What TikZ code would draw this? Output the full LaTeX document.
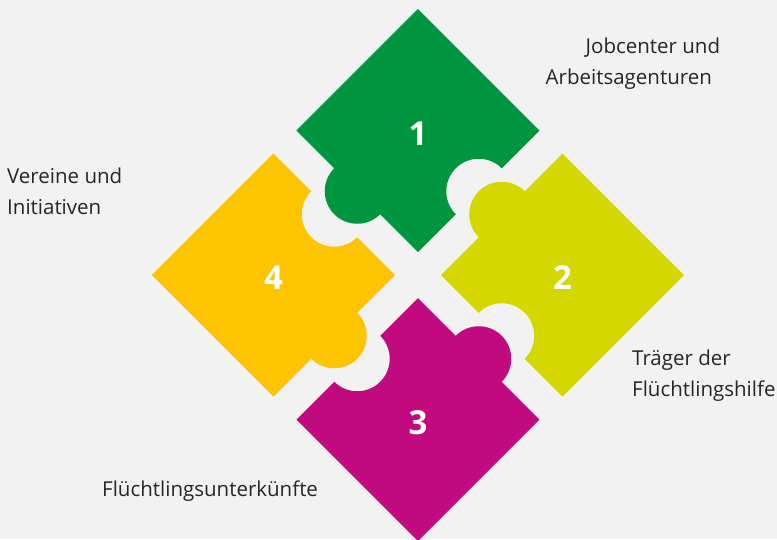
\documentclass[tikz,border=0pt]{standalone}
\usepackage{fontspec}
\setmainfont{Open Sans}
\usetikzlibrary{positioning}
\definecolor{bgGrey}{RGB}{242,242,242}
\definecolor{pieceGreen}{RGB}{0,150,64}
\definecolor{pieceLime}{RGB}{212,216,0}
\definecolor{pieceMagenta}{RGB}{192,10,125}
\definecolor{pieceYellow}{RGB}{253,196,0}
\begin{document}
\begin{tikzpicture}[x=1pt,y=1pt,
		piece/.pic={
			\path[pic actions] (0,121.5) -- (121.5,0) -- (83.73,-37.77)
				arc[start angle=45, end angle=225, radius=32.5] -- (0,-121.5) -- (-37.77,-83.73)
				arc[start angle=315, end angle=135, radius=32.5] -- (-121.5,0) -- cycle;
		},
		num/.style={text=white, font=\fontsize{33}{33}\selectfont\bfseries, inner sep=0pt},
		label/.style={align=left, anchor=base west, inner sep=0pt, text=black!85,
			font=\fontsize{20.5}{31}\selectfont}]
	\fill[bgGrey] (-418,-264) rectangle (359,275);
	\useasboundingbox (-418,-264) rectangle (359,275);
	
	\pic[fill=pieceGreen] at (0,144.5) {piece};
	\pic[fill=pieceLime, rotate=-90] at (144.5,0) {piece};
	\pic[fill=pieceMagenta, rotate=180] at (0,-144.5) {piece};
	\pic[fill=pieceYellow, rotate=90] at (-144.5,0) {piece};
	
	\node[num] (n1) at (0,141.5) {1};
	\node[num] (n2) at (144.5,-3) {2};
	\node[num] (n3) at (0,-147.5) {3};
	\node[num] (n4) at (-144.5,-3) {4};
	
	% base anchor sits on the last line
	\node[label] (jobs) at (127.5,190.5) {\hspace*{40pt}Jobcenter und\\Arbeitsagenturen};
	\node[label] (clubs) at (-411,60.5) {Vereine und\\Initiativen};
	\node[label] (aid) at (214,-121) {Träger der\\Flüchtlingshilfe};
	\node[label] (homes) at (-316,-221) {Flüchtlingsunterkünfte};
\end{tikzpicture}
\end{document}
